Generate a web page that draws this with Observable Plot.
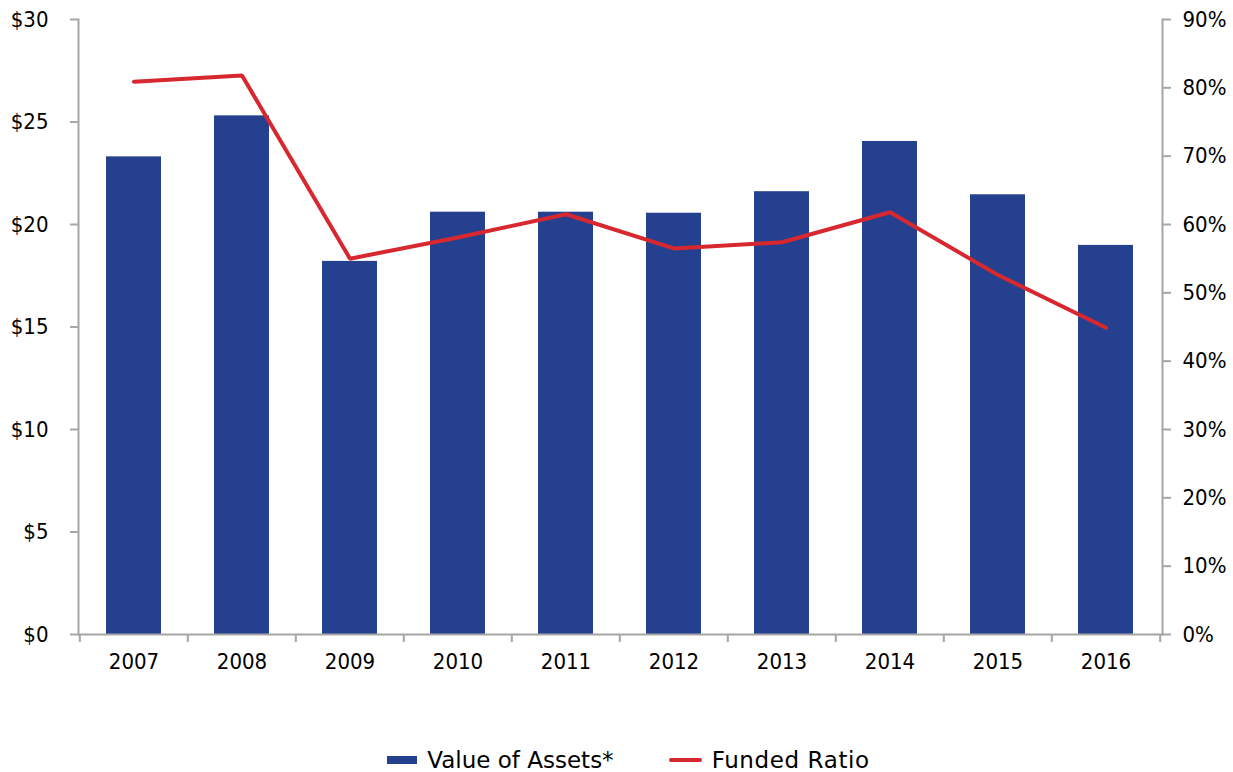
<!DOCTYPE html>
<html>
<head>
<meta charset="utf-8">
<script src="https://cdn.jsdelivr.net/npm/d3@7"></script>
<script src="https://cdn.jsdelivr.net/npm/@observablehq/plot@0.6"></script>
<style>
  html, body { margin: 0; padding: 0; background: #fff; }
  body { width: 1233px; font-family: "DejaVu Sans Condensed", "DejaVu Sans", sans-serif; }
  #legend { display: flex; justify-content: center; align-items: center; margin-top: 47px; height: 26px; font-size: 23px; color: #000; font-family: "DejaVu Sans", sans-serif; padding-left: 24px; }
  .item { display: flex; align-items: center; }
  .sw-bar { width: 30px; height: 8px; background: #25408f; margin-right: 10px; }
  .sw-line { width: 33px; height: 4px; background: #d7282f; margin-right: 10px; border-radius: 2px; }
</style>
</head>
<body>
<div id="chart"></div>
<div id="legend">
  <div class="item" style="margin-right:55px"><span class="sw-bar"></span><span>Value of Assets*</span></div>
  <div class="item"><span class="sw-line"></span><span style="letter-spacing:0.6px">Funded Ratio</span></div>
</div>
<script>
const years = ["2007","2008","2009","2010","2011","2012","2013","2014","2015","2016"];
const assets = [23.3, 25.3, 18.2, 20.6, 20.6, 20.55, 21.6, 24.05, 21.45, 18.98];
const fundedRatio = [80.9, 81.8, 55.0, 58.1, 61.5, 56.5, 57.4, 61.8, 52.6, 44.9];
const dollarTicks = [0, 5, 10, 15, 20, 25, 30];
const pctTicks = [0, 10, 20, 30, 40, 50, 60, 70, 80, 90];

const data = years.map((y, i) => ({year: y, assets: assets[i], ratio: fundedRatio[i]}));
// Right axis maps 0–90% onto the same vertical range as $0–$30
const pctToDollar = p => p * 30 / 90;

const axisGray = "#a6a6a6";
const width = 1233, height = 700;
const step = (1233 - 78 - 71) / years.length;

const chart = Plot.plot({
  width, height,
  marginLeft: 78, marginRight: 71, marginTop: 19, marginBottom: 66,
  style: {fontFamily: "'DejaVu Sans Condensed', 'DejaVu Sans', sans-serif", fontSize: "22px", color: "#000", background: "#fff"},
  x: {domain: years, paddingInner: 0.49, paddingOuter: 0.245, axis: null},
  y: {domain: [0, 30], axis: null},
  marks: [
    Plot.barY(data, {x: "year", y: "assets", fill: "#25408f"}),
    Plot.line(data, {x: "year", y: d => pctToDollar(d.ratio), stroke: "#d7282f", strokeWidth: 4, strokeLinejoin: "miter", curve: "linear"}),
    // axis lines
    Plot.frame({anchor: "left", stroke: axisGray, strokeWidth: 2}),
    Plot.frame({anchor: "right", stroke: axisGray, strokeWidth: 2}),
    Plot.frame({anchor: "bottom", stroke: axisGray, strokeWidth: 2}),
    // left axis
    Plot.axisY({ticks: dollarTicks, anchor: "left", tickSize: 8, tickPadding: 22, tickFormat: d => "$" + d, stroke: axisGray, strokeWidth: 2, fill: "#000", label: null}),
    // right axis (percent)
    Plot.axisY({ticks: pctTicks.map(pctToDollar), anchor: "right", tickSize: 8, tickPadding: 12, tickFormat: d => Math.round(d * 3) + "%", stroke: axisGray, strokeWidth: 2, fill: "#000", label: null}),
    // bottom axis labels
    Plot.axisX({anchor: "bottom", tickSize: 0, tickPadding: 19, fill: "#000", label: null}),
    // category boundary ticks
    Plot.ruleX(years, {x: d => d, dx: -step / 2, y1: 0, y2: 0, insetBottom: -8, stroke: axisGray, strokeWidth: 2}),
    Plot.ruleX(years.slice(-1), {x: d => d, dx: step / 2, y1: 0, y2: 0, insetBottom: -8, stroke: axisGray, strokeWidth: 2})
  ]
});
document.getElementById("chart").appendChild(chart);
</script>
</body>
</html>
